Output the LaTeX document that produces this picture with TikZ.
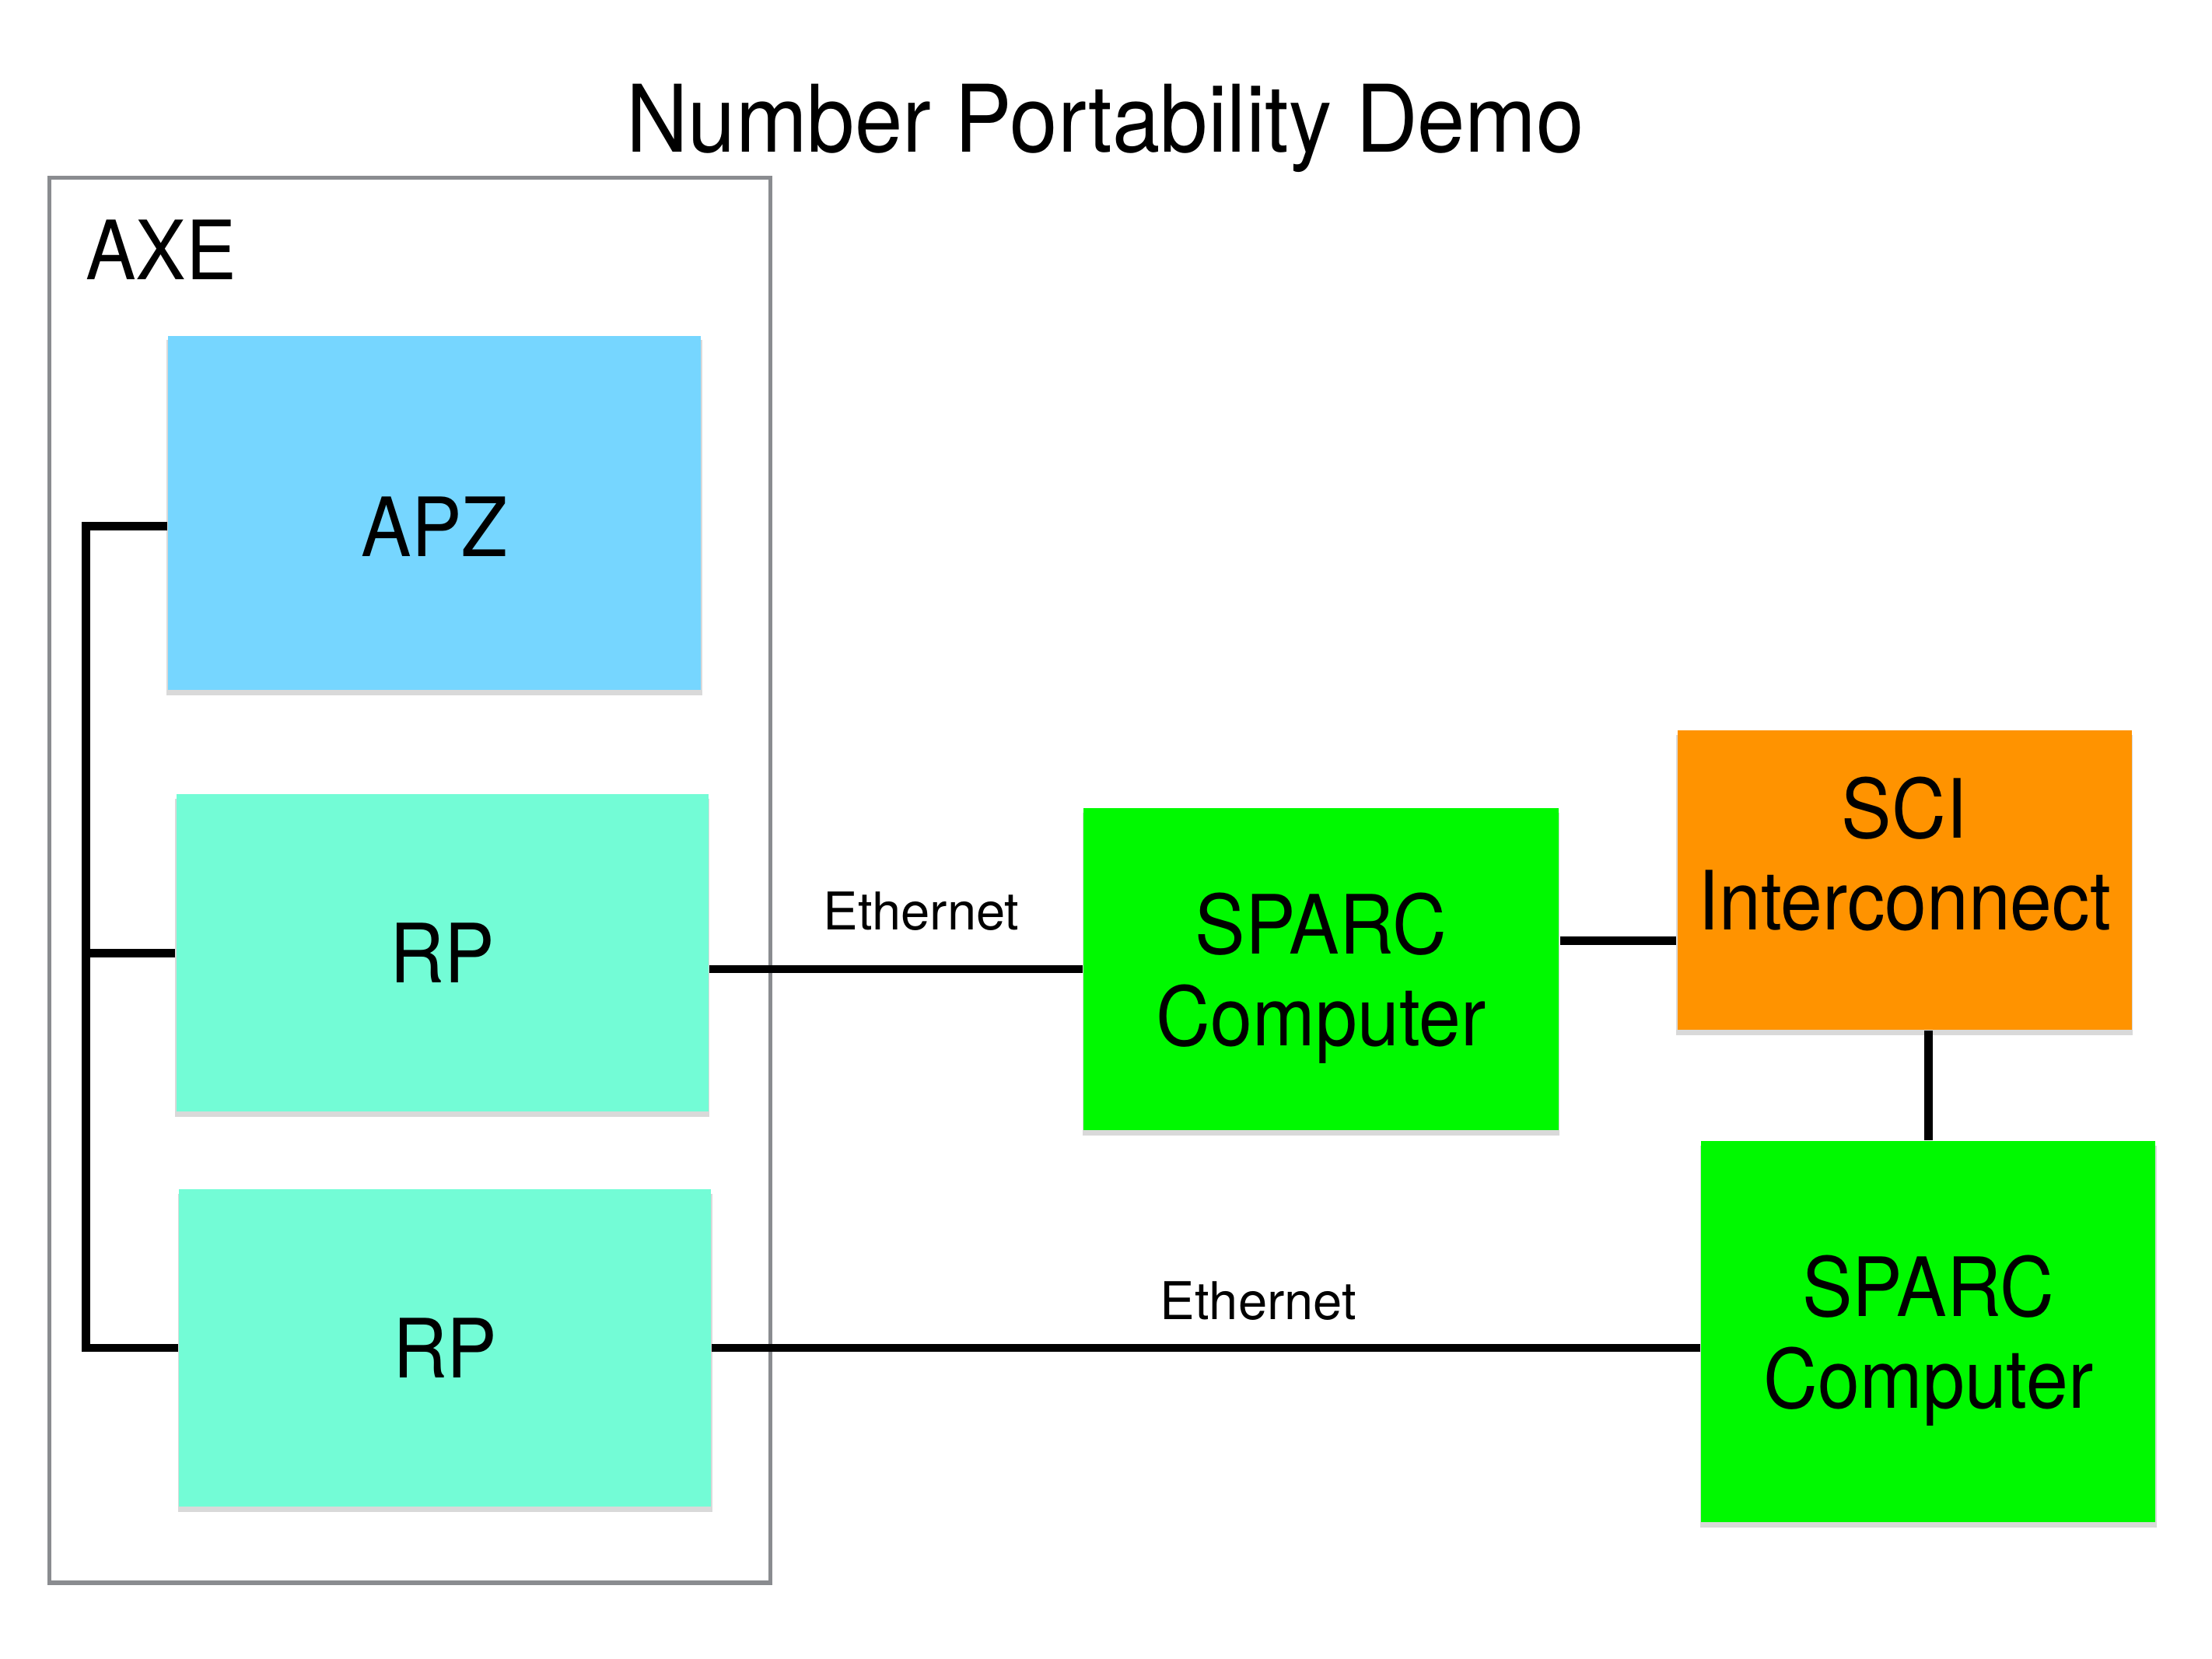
\documentclass[tikz,border=0pt]{standalone}
\usepackage{fontspec}
\setmainfont{TeX Gyre Heros}
\newfontfamily\lightsans{TeX Gyre Heros}[FakeStretch=0.92]
\usetikzlibrary{shadows}
\definecolor{apzblue}{HTML}{76D6FF}
\definecolor{rpmint}{HTML}{73FCD6}
\definecolor{sparcgreen}{HTML}{00F900}
\definecolor{sciorange}{HTML}{FF9300}
\definecolor{axegray}{HTML}{8A8C90}

\begin{document}
\begin{tikzpicture}[
  unit/.style={rectangle, inner sep=0pt, align=center, font=\lightsans\fontsize{16.5}{18.5}\selectfont,
    drop shadow={shadow xshift=0pt, shadow yshift=-1pt, shadow scale=1.004, opacity=0.3}},
  wire/.style={line width=1.7pt},
  lbl/.style={font=\fontsize{10.5}{12}\selectfont}]
  \useasboundingbox (0,0) rectangle (15.68,11.76);
  % Title and AXE frame
  \node[anchor=base, font=\lightsans\fontsize{18.8}{20}\selectfont] (title) at (7.835,10.68) {Number Portability Demo};
  \draw[axegray, line width=0.8pt] (0.35,0.54) rectangle (5.46,10.50);
  \node[anchor=base west, inner sep=0pt, font=\lightsans\fontsize{16.5}{18.5}\selectfont] (axe) at (0.60,9.78) {AXE};
  % AXE units
  \node[unit, fill=apzblue, minimum width=3.78cm, minimum height=2.51cm, text height=6.2mm] (apz) at (3.08,8.125) {APZ};
  \node[unit, fill=rpmint, minimum width=3.77cm, minimum height=2.25cm] (rpA) at (3.135,5.005) {RP};
  \node[unit, fill=rpmint, minimum width=3.77cm, minimum height=2.25cm] (rpB) at (3.155,2.205) {RP};
  % outside
  \node[unit, fill=sparcgreen, minimum width=3.37cm, minimum height=2.28cm, text depth=0pt] (sparcA) at (9.365,4.89) {SPARC\\Computer};
  \node[unit, fill=sciorange, minimum width=3.22cm, minimum height=2.12cm, text depth=3.8mm] (sci) at (13.50,5.52) {SCI\\Interconnect};
  \node[unit, fill=sparcgreen, minimum width=3.22cm, minimum height=2.70cm, text depth=0pt] (sparcB) at (13.67,2.32) {SPARC\\Computer};
  % bus inside AXE
  \coordinate (bus) at (0.61,0);
  \draw[wire] ([yshift=-0.95mm]apz.west) -| (bus |- rpB.west) -- (rpB.west);
  \draw[wire] (rpA.west) -- (bus |- rpA.west);
  % links
  \draw[wire] (rpA.east |- sparcA.west) -- (sparcA.west);
  \draw[wire] (rpB.east) -- (rpB.east -| sparcB.west);
  \draw[wire] ([yshift=2mm]sparcA.east) -- ([yshift=2mm]sparcA.east -| sci.west);
  \draw[wire] (sparcB.north |- sci.south) -- (sparcB.north);
  \node[lbl] (ethA) at (6.53,5.30) {Ethernet};
  \node[lbl] (ethB) at (8.92,2.54) {Ethernet};
\end{tikzpicture}
\end{document}
